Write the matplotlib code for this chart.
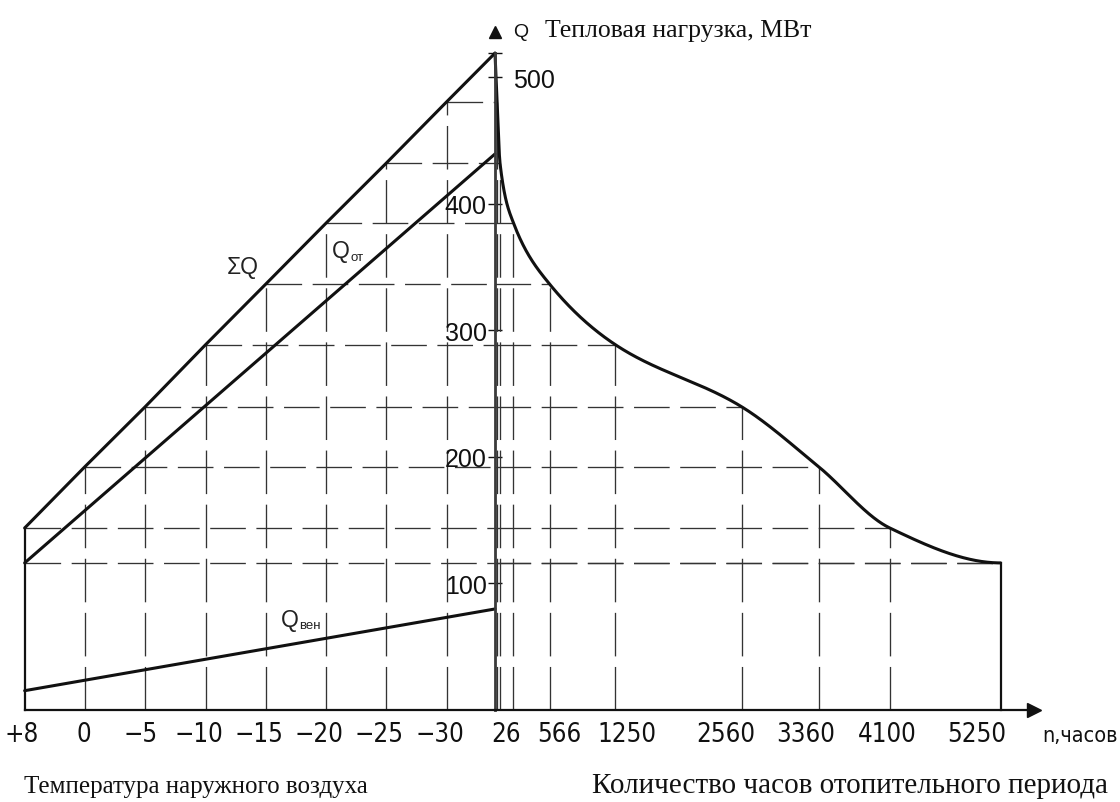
import numpy as np
import matplotlib
matplotlib.use("Agg")
import matplotlib.pyplot as plt
from matplotlib.transforms import ScaledTranslation
from matplotlib import font_manager as fm
from matplotlib.font_manager import FontProperties

plt.rcParams['font.family'] = ['Liberation Sans', 'DejaVu Sans']

# ---------------- data ----------------
temp_ticks = [8, 0, -5, -10, -15, -20, -25, -30]
temp_labels = ["+8", "0", "−5", "−10", "−15", "−20", "−25", "−30"]
t_design = -34

# total heat load ΣQ at each outdoor temperature (MW)
temps_sum = [8, 0, -5, -10, -15, -20, -25, -30, -34]
q_sum = [143.6, 192.1, 239.5, 288.5, 336.5, 384.7, 432.2, 480.6, 519.0]

# heating load Qот and ventilation load Qвен (MW)
q_ot_temps = [8, -34]
q_ot = [116.0, 439.3]
q_ven_temps = [8, -34]
q_ven = [15.0, 79.6]

# load duration curve: hours of heating period vs load
curve_hours = [0, 3, 7, 26, 566, 1250, 2560, 3360, 4100, 5250]
curve_q = [519.0, 480.6, 432.2, 384.7, 336.5, 288.5, 239.5, 192.1, 143.6, 116.0]

hour_ticks = [26, 566, 1250, 2560, 3360, 4100, 5250]
hour_labels = ["26", "566", "1250", "2560", "3360", "4100", "5250"]
q_ticks = [100, 200, 300, 400, 500]
q_tick_labels = ["100", "200", "300", "400"]

# ---------------- layout / style constants ----------------
W, H = 1120, 803
XB = 495                      # pixel column of the Q axis
Q_TOP, Q_BOT = 561.8, -73.0
TEMP_LIM = (11.27, -34)
HOUR_LIM = (0, 6490)
temp_label_dx = [-3, -1, -5, -7, -7, -7, -7, -7]       # px nudges of labels
hour_label_dx = [-7, 10, 12, -16, -13, -3, -24]
LABEL_BASE_Q = -24.5
SERIF = ['Liberation Serif', 'DejaVu Serif']
INK = '#111111'
GRID = '#333333'
hdash = dict(color=GRID, lw=0.95, dashes=(27, 8), clip_on=False)
vdash = dict(color=GRID, lw=0.95, dashes=(33, 8), clip_on=False)
thick = dict(color=INK, lw=2.2, clip_on=False, solid_capstyle='round')


def pick_narrow_font():
    """Find a condensed sans font (drafting-style lettering)."""
    best = None
    for f in fm.fontManager.ttflist:
        name = f.name.lower()
        stretch = str(f.stretch).lower()
        if f.style != 'normal':
            continue
        try:
            w = int(f.weight)
        except (TypeError, ValueError):
            w = 400 if str(f.weight).lower() in ('normal', 'regular', 'book') else 700
        if w > 500 or w < 300:
            continue
        narrow = ('narrow' in name or 'condensed' in name
                  or stretch in ('condensed', 'semi-condensed', 'extra-condensed'))
        if not narrow:
            continue
        rank = 5
        if 'liberation sans narrow' in name:
            rank = 0
        elif 'dejavu sans' in name and 'mono' not in name:
            rank = 1
        elif 'roboto' in name:
            rank = 2
        elif 'noto sans' in name and 'cjk' not in name and 'mono' not in name:
            rank = 3
        elif 'open sans' in name:
            rank = 4
        if 'light' in name or 'thin' in name or 'extra' in stretch:
            rank += 3
        if best is None or rank < best[0]:
            best = (rank, f.fname)
    return best[1] if best else None


_nf = pick_narrow_font()
if _nf:
    TECH_X = FontProperties(fname=_nf, size=18.5)
    TECH_N = FontProperties(fname=_nf, size=15.5)
else:
    TECH_X = FontProperties(family=['Liberation Sans', 'DejaVu Sans'], size=17.5)
    TECH_N = FontProperties(family=['Liberation Sans', 'DejaVu Sans'], size=14)
TECH_Y = FontProperties(family=['Liberation Sans', 'DejaVu Sans'], size=18)
TECH_L = FontProperties(family=['Liberation Sans', 'DejaVu Sans'], size=16.5)
TECH_S = FontProperties(family=['Liberation Sans', 'DejaVu Sans'], size=9.5)
TECH_Q = FontProperties(family=['Liberation Sans', 'DejaVu Sans'], size=14)


# schematic axis scales (as in the drawing: +8..0 drawn as one 5° step,
# first hours of the duration curve stretched)
def t_fwd(t):
    t = np.asarray(t, float)
    return np.where(t > 0, t * 5.0 / 8.0, t)


def t_inv(p):
    p = np.asarray(p, float)
    return np.where(p > 0, p * 8.0 / 5.0, p)


H_BP = [0, 26, 566]
F_BP = [0, 192, 566]


def h_fwd(h):
    h = np.asarray(h, float)
    return np.where(h < 566, np.interp(h, H_BP, F_BP), h)


def h_inv(f):
    f = np.asarray(f, float)
    return np.where(f < 566, np.interp(f, F_BP, H_BP), f)


def pchip(x, y, xn):
    x = np.asarray(x, float)
    y = np.asarray(y, float)
    h = np.diff(x)
    d = np.diff(y) / h
    n = len(x)
    m = np.zeros(n)
    for k in range(1, n - 1):
        if d[k - 1] * d[k] > 0:
            w1 = 2 * h[k] + h[k - 1]
            w2 = h[k] + 2 * h[k - 1]
            m[k] = (w1 + w2) / (w1 / d[k - 1] + w2 / d[k])

    def end(h0, h1, d0, d1):
        mm = ((2 * h0 + h1) * d0 - h0 * d1) / (h0 + h1)
        if np.sign(mm) != np.sign(d0):
            mm = 0.0
        elif np.sign(d0) != np.sign(d1) and abs(mm) > abs(3 * d0):
            mm = 3 * d0
        return mm

    m[0] = end(h[0], h[1], d[0], d[1])
    m[-1] = end(h[-1], h[-2], d[-1], d[-2])
    idx = np.clip(np.searchsorted(x, xn) - 1, 0, n - 2)
    t = (xn - x[idx]) / h[idx]
    h00 = 2 * t**3 - 3 * t**2 + 1
    h10 = t**3 - 2 * t**2 + t
    h01 = -2 * t**3 + 3 * t**2
    h11 = t**3 - t**2
    return (h00 * y[idx] + h10 * h[idx] * m[idx] + h01 * y[idx + 1]
            + h11 * h[idx] * m[idx + 1])


fig = plt.figure(figsize=(W / 100, H / 100), dpi=100)
ax1 = fig.add_axes([0, 0, XB / W, 1])
ax2 = fig.add_axes([XB / W, 0, 1 - XB / W, 1])
for ax in (ax1, ax2):
    ax.set_ylim(Q_BOT, Q_TOP)
    ax.patch.set_visible(False)
    for s in ('top', 'right', 'left'):
        ax.spines[s].set_visible(False)
ax2.spines['left'].set_visible(True)

ax1.set_xscale('function', functions=(t_fwd, t_inv))
ax1.set_xlim(*TEMP_LIM)
ax2.set_xscale('function', functions=(h_fwd, h_inv))
ax2.set_xlim(*HOUR_LIM)

# ---------- left part: temperature ----------
for t, q in zip(temps_sum[1:-1], q_sum[1:-1]):
    ax1.plot([t, t], [0, q], **vdash)
ax1.plot([temps_sum[0]] * 2, [0, q_sum[0]], color=INK, lw=1.6, clip_on=False)
for t, q in zip(temps_sum[:-1], q_sum[:-1]):
    ax1.plot([t, t_design], [q, q], **hdash)
ax1.plot([q_ot_temps[0], t_design], [q_ot[0]] * 2, **hdash)

ax1.plot(temps_sum, q_sum, **thick)
ax1.plot(q_ot_temps, q_ot, **thick)
ax1.plot(q_ven_temps, q_ven, **thick)

# ---------- right part: duration curve ----------
for h, q in zip(curve_hours[1:], curve_q[1:]):
    ax2.plot([0, h], [q, q], **hdash)
ax2.plot([0, curve_hours[-1]], [q_ot[0]] * 2, **hdash)
for h, q in zip(curve_hours[1:-1], curve_q[1:-1]):
    ax2.plot([h, h], [0, q], **vdash)
ax2.plot([curve_hours[-1]] * 2, [0, curve_q[-1]], color=INK, lw=1.6, clip_on=False)

f_pts = h_fwd(curve_hours)
f_dense = np.linspace(f_pts[0], f_pts[-1], 1500)
q_dense = pchip(f_pts, curve_q, f_dense)
ax2.plot(h_inv(f_dense), q_dense, **thick)

# ---------- axes ----------
ax1.spines['bottom'].set_position(('data', 0))
ax1.spines['bottom'].set_bounds(temps_sum[0], t_design)
ax2.spines['bottom'].set_position(('data', 0))
ax2.spines['bottom'].set_bounds(0, 5600)
for ax in (ax1, ax2):
    ax.spines['bottom'].set_linewidth(1.6)
    ax.spines['bottom'].set_color(INK)
ax2.plot([5600], [0], marker='>', ms=10, color=INK, clip_on=False)

ax2.spines['left'].set_bounds(0, q_sum[-1])
ax2.spines['left'].set_linewidth(2.0)
ax2.spines['left'].set_color('#3a3a3a')
ax2.set_yticks(q_ticks + [q_sum[-1]])
ax2.set_yticklabels(q_tick_labels + ["", ""])
ax2.tick_params(axis='y', direction='inout', length=10, width=1.0,
                pad=1, colors=INK)
for lab in ax2.get_yticklabels():
    lab.set_fontproperties(TECH_Y)
ax2.annotate("500", xy=(0, 500), xytext=(13, 0), textcoords='offset points',
             ha='left', va='center_baseline', fontproperties=TECH_Y, color=INK,
             annotation_clip=False)
ax2.plot([0], [536], marker='^', ms=8, color=INK, clip_on=False)
ax2.annotate("Q", xy=(0, 536), xytext=(13, 0), textcoords='offset points',
             ha='left', va='center', fontproperties=TECH_Q, color=INK,
             annotation_clip=False)

ax1.set_xticks([])
ax1.set_yticks([])
ax2.set_xticks([])

for t, lab, dx in zip(temp_ticks, temp_labels, temp_label_dx):
    ax1.text(t, LABEL_BASE_Q, lab, ha='center', va='baseline', fontproperties=TECH_X,
             color=INK, clip_on=False,
             transform=ax1.transData + ScaledTranslation(dx / 100, 0, fig.dpi_scale_trans))
for h, lab, dx in zip(hour_ticks, hour_labels, hour_label_dx):
    ax2.text(h, LABEL_BASE_Q, lab, ha='center', va='baseline', fontproperties=TECH_X,
             color=INK, clip_on=False,
             transform=ax2.transData + ScaledTranslation(dx / 100, 0, fig.dpi_scale_trans))
ax2.text(5680, LABEL_BASE_Q, "n,часов", ha='left', va='baseline', fontproperties=TECH_N,
         color=INK, clip_on=False)

# ---------- line labels ----------
LBL = '#222222'
ax1.text(-13.1, 350, "ΣQ", ha='center', va='center', fontproperties=TECH_L, color=LBL)
ax1.text(-21.2, 362.6, "Q", ha='center', va='center', fontproperties=TECH_L, color=LBL)
ax1.annotate("от", xy=(-21.2, 362.6), xytext=(11.5, -4.5), textcoords='offset points',
             ha='center', va='center', fontproperties=TECH_S, color=LBL)
ax1.text(-17.0, 70.9, "Q", ha='center', va='center', fontproperties=TECH_L, color=LBL)
ax1.annotate("вен", xy=(-17.0, 70.9), xytext=(14, -3.5), textcoords='offset points',
             ha='center', va='center', fontproperties=TECH_S, color=LBL)

# ---------- titles ----------
fig.text(545 / W, 1 - 37 / H, "Тепловая нагрузка, МВт", ha='left', va='baseline',
         fontsize=18.5, family=SERIF, color=INK)
fig.text(196 / W, 1 - 793 / H, "Температура наружного воздуха", ha='center',
         va='baseline', fontsize=18, family=SERIF, color=INK)
fig.text(850 / W, 1 - 793 / H, "Количество часов отопительного периода", ha='center',
         va='baseline', fontsize=21, family=SERIF, color=INK)

fig.savefig("out.png", dpi=100, facecolor='white')
